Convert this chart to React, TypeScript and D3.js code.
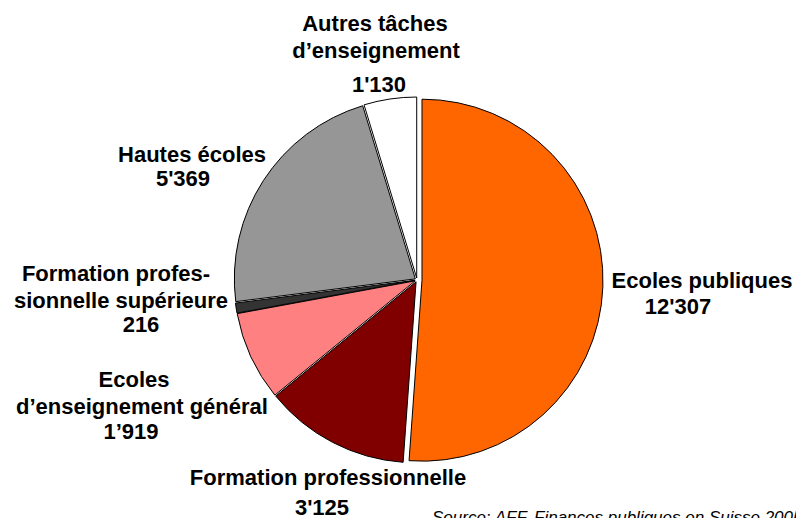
import React, { useEffect, useRef } from "react";
import * as d3 from "d3";

// slices, clockwise from 12 o'clock
const categories = [
  "Ecoles publiques",
  "Formation professionnelle",
  "Ecoles d’enseignement général",
  "Formation professionnelle supérieure",
  "Hautes écoles",
  "Autres tâches d’enseignement",
];
const values = [12307, 3125, 1919, 216, 5369, 1130];
const colors = ["#FF6600", "#800000", "#FF8080", "#333333", "#969696", "#FFFFFF"];
const explode = [5, 2, 2, 2, 2, 2];

// label lines per slice (text) and where each line sits
const labelLines = [
  ["Ecoles publiques", "12'307"],
  ["Formation professionnelle", "3'125"],
  ["Ecoles", "d’enseignement général", "1’919"],
  ["Formation profes-", "sionnelle supérieure", "216"],
  ["Hautes écoles", "5'369"],
  ["Autres tâches", "d’enseignement", "1'130"],
];
const labelPos = [
  [[702, 288], [678, 314]],
  [[328, 485], [322, 515]],
  [[134, 387], [142, 414], [131, 439]],
  [[116, 281], [121, 308], [141, 332]],
  [[192, 162], [183, 186]],
  [[375, 31], [376, 58], [379, 92]],
];
const source = "Source: AFF, Finances publiques en Suisse 2005";

export default function App() {
  const ref = useRef<SVGSVGElement>(null);

  useEffect(() => {
    const svg = d3.select(ref.current);
    svg.selectAll("*").remove();

    const width = 796;
    const height = 518;
    const cx = 417;
    const cy = 280;
    const radius = 181;

    const pie = d3.pie<number>().sort(null).value(d => d);
    const arcs = pie(values);
    const arc = d3.arc<d3.PieArcDatum<number>>().innerRadius(0).outerRadius(radius);

    const g = svg.append("g").attr("transform", `translate(${cx},${cy})`);

    g.selectAll("path")
      .data(arcs)
      .enter()
      .append("path")
      .attr("d", arc)
      .attr("transform", (d, i) => {
        const a = (d.startAngle + d.endAngle) / 2;
        return `translate(${Math.sin(a) * explode[i]},${-Math.cos(a) * explode[i]})`;
      })
      .attr("fill", (d, i) => colors[i])
      .attr("stroke", "#000")
      .attr("stroke-width", 1)
      .attr("stroke-linejoin", "round");

    // labels
    labelLines.forEach((lines, i) => {
      lines.forEach((line, j) => {
        svg.append("text")
          .attr("x", labelPos[i][j][0])
          .attr("y", labelPos[i][j][1])
          .attr("text-anchor", "middle")
          .attr("font-family", "'Liberation Sans', Arial, sans-serif")
          .attr("font-weight", "bold")
          .attr("font-size", "22px")
          .attr("fill", "#000")
          .text(line);
      });
    });

    svg.append("text")
      .attr("x", 432)
      .attr("y", 523)
      .attr("font-family", "'Liberation Sans', Arial, sans-serif")
      .attr("font-style", "italic")
      .attr("font-size", "17px")
      .attr("fill", "#000")
      .text(source);

    svg.attr("width", width).attr("height", height);
  }, []);

  return (
    <div style={{ position: "absolute", left: 0, top: 0 }}>
      <svg ref={ref} width={796} height={518} style={{ display: "block", background: "#fff" }} />
    </div>
  );
}
